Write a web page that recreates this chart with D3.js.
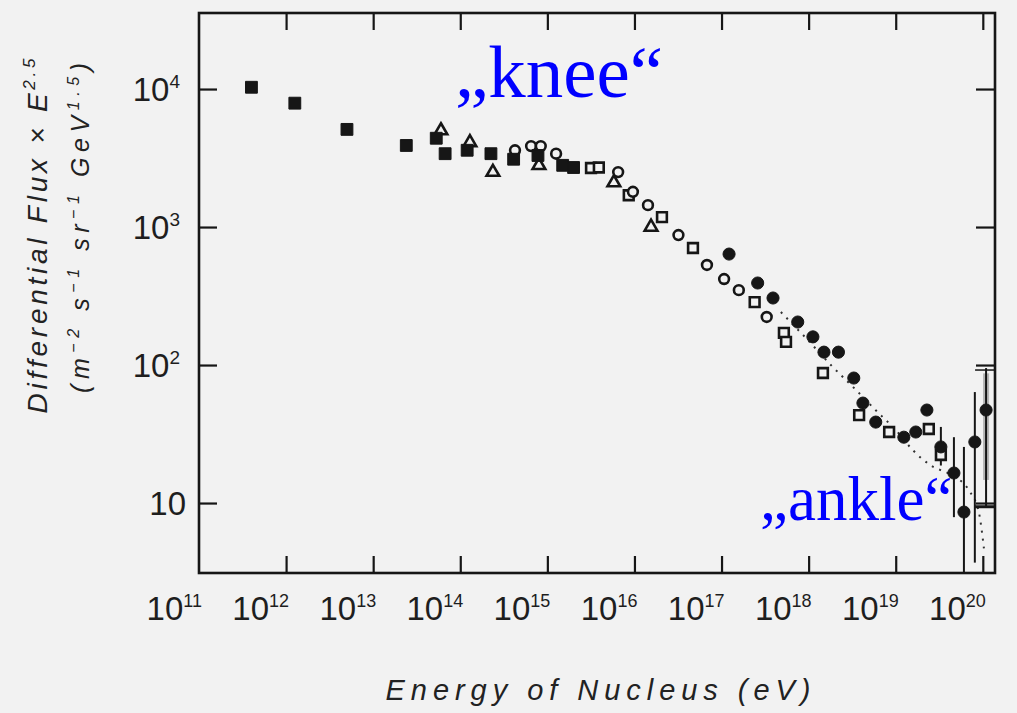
<!DOCTYPE html>
<html>
<head>
<meta charset="utf-8">
<script src="https://cdn.jsdelivr.net/npm/d3@7"></script>
<style>
  body { margin: 0; background: #f2f2f2; }
  svg { display: block; }
</style>
</head>
<body>
<div id="chart"></div>
<script>
// energy (eV) and flux*E^2.5, one pair of arrays per marker shape
var filledSquareE = [4.0e11, 1.26e12, 5.0e12, 2.4e13, 5.3e13, 6.7e13, 1.2e14, 2.25e14, 4.1e14, 7.8e14, 1.5e15, 2.0e15];
var filledSquareF = [1.03e4, 7.9e3, 5.1e3, 3.9e3, 4.4e3, 3.4e3, 3.6e3, 3.4e3, 3.1e3, 3.3e3, 2.8e3, 2.7e3];

var triangleE = [6.0e13, 1.29e14, 2.37e14, 8.0e14, 5.8e15, 1.55e16];
var triangleF = [5.0e3, 4.1e3, 2.5e3, 2.8e3, 2.1e3, 1.0e3];

var openCircleE = [4.25e14, 6.5e14, 8.4e14, 1.26e15, 6.5e15, 9.6e15, 1.43e16, 3.2e16, 6.8e16, 1.07e17, 1.58e17, 3.3e17];
var openCircleF = [3.6e3, 3.86e3, 3.86e3, 3.4e3, 2.5e3, 1.8e3, 1.44e3, 875, 531, 420, 349, 223];

var openSquareE = [3.17e15, 3.9e15, 8.6e15, 2.07e16, 4.7e16, 2.4e17, 5.2e17, 5.5e17, 1.46e18, 3.8e18, 8.4e18, 2.4e19, 3.3e19];
var openSquareF = [2.68e3, 2.7e3, 1.7e3, 1.18e3, 705, 286, 171, 147, 87.5, 43.4, 32.7, 34.4, 22.3];

var filledCircleE = [1.22e17, 2.6e17, 3.9e17, 7.5e17, 1.12e18, 1.5e18, 2.2e18, 3.3e18, 4.2e18, 5.9e18, 1.24e19, 1.7e19, 2.28e19, 3.3e19, 4.66e19, 6.07e19, 8.1e19, 1.09e20];
var filledCircleF = [637, 393, 306, 205, 160, 124, 124, 80.5, 53, 38.6, 30, 32.7, 47.2, 25.5, 16.5, 8.6, 27.7, 47.2];

// error bars on the highest energy points
var errE  = [3.3e19, 4.66e19, 6.07e19, 8.1e19, 1.09e20];
var errHi = [35.6, 30, 25.5, 63.7, 95];
var errLo = [18.7, 7.9, 3.1, 3.7, 9.4];

// grey band and cap marks around the last point
var bandE = [1.09e20];
var bandHi = [87];
var bandLo = [14.7];
var capE = [1.09e20, 1.09e20];
var capF = [92, 9.4];

// dotted curve through the high energy data
var dotE = [4.8e17, 9.3e17, 1.8e18, 3.5e18, 5.9e18, 1.0e19, 1.57e19, 2.5e19, 4.3e19, 6.9e19, 9.0e19, 1.03e20];
var dotF = [242, 157, 100, 66, 47, 33.8, 24.2, 18.8, 16, 12.4, 8.6, 4.7];

var xTickExps = [11, 12, 13, 14, 15, 16, 17, 18, 19, 20];
var yTickExps = [1, 2, 3, 4];

var width = 1017, height = 713;
var margin = {top: 13, right: 22, bottom: 140, left: 199};
var ink = "#161616";
var paper = "#f2f2f2";

var svg = d3.select("#chart")
  .append("svg")
    .attr("width", width)
    .attr("height", height)
    .style("background", paper);

var x = d3.scaleLog()
  .domain([1e11, Math.pow(10, 20.14)])
  .range([margin.left, width - margin.right]);

var y = d3.scaleLog()
  .domain([Math.pow(10, 0.493), Math.pow(10, 4.551)])
  .range([height - margin.bottom, margin.top]);

var x0 = x.range()[0], x1 = x.range()[1];
var y0 = y.range()[0], y1 = y.range()[1];

// ticks on all four sides, pointing inwards
var xTicks = xTickExps.slice(1).map(function (e) { return Math.pow(10, e); });
var yTicks = yTickExps.map(function (e) { return Math.pow(10, e); });

svg.append("g")
  .attr("transform", "translate(0," + y0 + ")")
  .call(d3.axisBottom(x).tickValues(xTicks).tickSizeInner(-17).tickSizeOuter(0).tickFormat(""));
svg.append("g")
  .attr("transform", "translate(0," + y1 + ")")
  .call(d3.axisTop(x).tickValues(xTicks).tickSizeInner(-17).tickSizeOuter(0).tickFormat(""));
svg.append("g")
  .attr("transform", "translate(" + x0 + ",0)")
  .call(d3.axisLeft(y).tickValues(yTicks).tickSizeInner(-18).tickSizeOuter(0).tickFormat(""));
svg.append("g")
  .attr("transform", "translate(" + x1 + ",0)")
  .call(d3.axisRight(y).tickValues(yTicks).tickSizeInner(-19).tickSizeOuter(0).tickFormat(""));

svg.selectAll(".domain").remove();
svg.selectAll(".tick line").attr("stroke", ink).attr("stroke-width", 2.2);

// frame
svg.append("rect")
  .attr("x", x0).attr("y", y1)
  .attr("width", x1 - x0).attr("height", y0 - y1)
  .attr("fill", "none")
  .attr("stroke", ink)
  .attr("stroke-width", 2.6);

// tick labels with superscripts
var labelFont = "Liberation Sans, Arial, sans-serif";
var xLab = svg.append("g")
  .selectAll("text")
  .data(xTickExps)
  .enter()
  .append("text")
    .attr("x", function (d) { return x(Math.pow(10, d)) + 3; })
    .attr("y", 620)
    .attr("text-anchor", "end")
    .style("font-family", labelFont)
    .style("font-size", "33px")
    .style("fill", "#1e1e1e");
xLab.append("tspan").text("10");
xLab.append("tspan")
  .attr("dy", -13)
  .style("font-size", "18px")
  .text(function (d) { return d; });

var yLab = svg.append("g")
  .selectAll("text")
  .data(yTickExps)
  .enter()
  .append("text")
    .attr("x", function (d) { return d === 1 ? 186 : 180; })
    .attr("y", function (d) { return y(Math.pow(10, d)) + 12; })
    .attr("text-anchor", "end")
    .style("font-family", labelFont)
    .style("font-size", "33px")
    .style("fill", "#1e1e1e");
yLab.append("tspan").text("10");
yLab.append("tspan")
  .attr("dy", -13)
  .style("font-size", "19px")
  .text(function (d) { return d === 1 ? "" : d; });

// axis titles
svg.append("text")
  .attr("x", 598)
  .attr("y", 700)
  .attr("text-anchor", "middle")
  .attr("textLength", 425)
  .attr("lengthAdjust", "spacing")
  .style("font-family", labelFont)
  .style("font-style", "italic")
  .style("font-size", "29px")
  .style("fill", "#222")
  .text("Energy of Nucleus (eV)");

var yt1 = svg.append("text")
  .attr("transform", "translate(47,236) rotate(-90)")
  .attr("text-anchor", "middle")
  .attr("textLength", 355)
  .attr("lengthAdjust", "spacing")
  .style("font-family", labelFont)
  .style("font-style", "italic")
  .style("font-size", "28px")
  .style("fill", "#222");
yt1.append("tspan").text("Differential Flux × E");
yt1.append("tspan").attr("dy", -12).style("font-size", "17px").text("2.5");

var yt2 = svg.append("text")
  .attr("transform", "translate(89,228) rotate(-90)")
  .attr("text-anchor", "middle")
  .attr("textLength", 330)
  .attr("lengthAdjust", "spacing")
  .style("font-family", labelFont)
  .style("font-style", "italic")
  .style("font-size", "25px")
  .style("fill", "#222");
var unitParts = [["(m", "−2"], [" s", "−1"], [" sr", "−1"], [" GeV", "1.5"], [")", ""]];
unitParts.forEach(function (p, i) {
  yt2.append("tspan").attr("dy", i === 0 ? 0 : 10).text(p[0]);
  if (p[1]) yt2.append("tspan").attr("dy", -10).style("font-size", "16px").text(p[1]);
});

// data layer
var plot = svg.append("g");

// grey band
plot.selectAll(".band")
  .data(bandE.map(function (e, i) { return {e: e, hi: bandHi[i], lo: bandLo[i]}; }))
  .enter()
  .append("rect")
    .attr("x", function (d) { return x(d.e) - 3; })
    .attr("y", function (d) { return y(d.hi); })
    .attr("width", 6)
    .attr("height", function (d) { return y(d.lo) - y(d.hi); })
    .attr("fill", "#b5b5b5");

// dotted curve
var dotLine = d3.line()
  .x(function (d) { return x(d[0]); })
  .y(function (d) { return y(d[1]); })
  .curve(d3.curveMonotoneX);
plot.append("path")
  .datum(dotE.map(function (e, i) { return [e, dotF[i]]; }))
  .attr("d", dotLine)
  .attr("fill", "none")
  .attr("stroke", "#333")
  .attr("stroke-width", 2)
  .attr("stroke-dasharray", "2,6");

// error bars
plot.selectAll(".err")
  .data(errE.map(function (e, i) { return {e: e, hi: errHi[i], lo: errLo[i]}; }))
  .enter()
  .append("line")
    .attr("x1", function (d) { return x(d.e); })
    .attr("x2", function (d) { return x(d.e); })
    .attr("y1", function (d) { return y(d.hi); })
    .attr("y2", function (d) { return y(d.lo); })
    .attr("stroke", ink)
    .attr("stroke-width", 2);

plot.selectAll(".cap")
  .data(capE.map(function (e, i) { return {e: e, f: capF[i]}; }))
  .enter()
  .append("line")
    .attr("x1", function (d) { return x(d.e) - 11; })
    .attr("x2", function (d) { return x(d.e) + 8; })
    .attr("y1", function (d) { return y(d.f); })
    .attr("y2", function (d) { return y(d.f); })
    .attr("stroke", ink)
    .attr("stroke-width", function (d, i) { return i === 0 ? 1.5 : 3; });

// markers
function drawSeries(es, fs, type, size, filled) {
  plot.append("g")
    .selectAll("path")
    .data(es.map(function (e, i) { return [e, fs[i]]; }))
    .enter()
    .append("path")
      .attr("transform", function (d) { return "translate(" + x(d[0]) + "," + y(d[1]) + ")"; })
      .attr("d", d3.symbol().type(type).size(size))
      .attr("fill", filled ? ink : paper)
      .attr("stroke", ink)
      .attr("stroke-width", filled ? 1 : 2.6);
}

drawSeries(openSquareE, openSquareF, d3.symbolSquare, 95, false);
drawSeries(openCircleE, openCircleF, d3.symbolCircle, 75, false);
drawSeries(triangleE, triangleF, d3.symbolTriangle, 70, false);
drawSeries(filledSquareE, filledSquareF, d3.symbolSquare, 140, true);
drawSeries(filledCircleE, filledCircleF, d3.symbolCircle, 115, true);

// annotations
var serif = "Liberation Serif, Times New Roman, serif";
svg.append("text")
  .attr("x", 455)
  .attr("y", 97)
  .style("font-family", serif)
  .style("font-size", "75px")
  .style("fill", "#0000ff")
  .text("\u201Eknee\u201C");

svg.append("text")
  .attr("x", 760)
  .attr("y", 520)
  .style("font-family", serif)
  .style("font-size", "63px")
  .style("fill", "#0000ff")
  .text("\u201Eankle\u201C");
</script>
</body>
</html>
